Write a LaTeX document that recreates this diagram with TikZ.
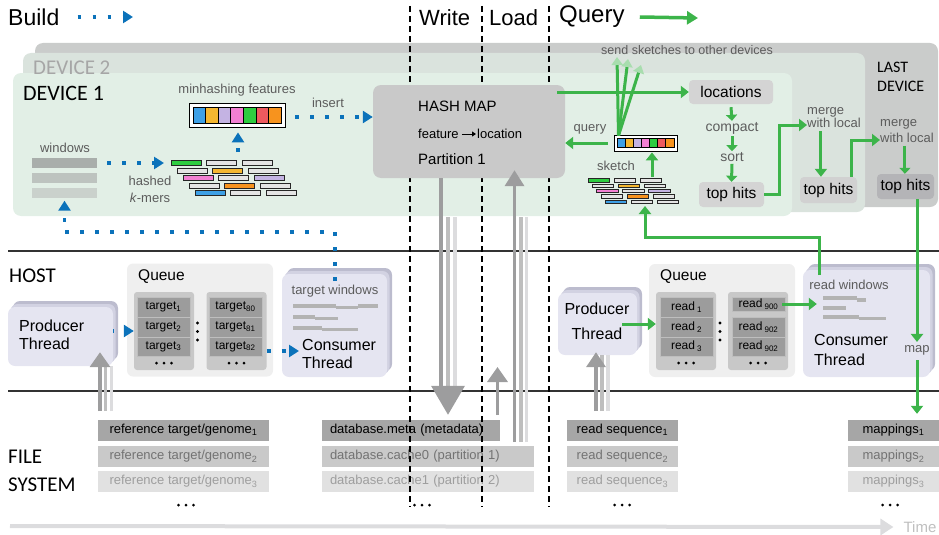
\documentclass[tikz,border=0pt]{standalone}
\usepackage{fontspec}
\setmainfont{Liberation Sans}
\newfontfamily\capfont{Carlito}
\usetikzlibrary{arrows.meta,positioning,shadows}

\definecolor{dotblue}{HTML}{0B72BA}
\definecolor{qgreen}{HTML}{3CB44A}
\definecolor{palegreen}{HTML}{A8DDAE}
\definecolor{devone}{HTML}{E2EFE6}
\definecolor{devtwo}{HTML}{DAE3DD}
\definecolor{devlast}{HTML}{CACCCB}
\definecolor{labgray}{HTML}{5C5C5C}
\definecolor{mapgray}{HTML}{C9C9C9}
\definecolor{hitgray}{HTML}{D4D4D4}
\definecolor{hitdark}{HTML}{B4B4B7}
\definecolor{thrfront}{HTML}{E5E5F1}
\definecolor{thrmid}{HTML}{D2D2E2}
\definecolor{thrback}{HTML}{BCBCCE}
\definecolor{queuebg}{HTML}{EFEFEF}
\definecolor{colgray}{HTML}{C8C8C8}
\definecolor{cellgray}{HTML}{9C9C9C}
\definecolor{arrdark}{HTML}{9D9D9E}
\definecolor{arrmid}{HTML}{BEBEBE}
\definecolor{arrlight}{HTML}{DCDCDE}
\definecolor{fileA}{HTML}{A6A6A6}
\definecolor{fileB}{HTML}{C9C9C9}
\definecolor{fileC}{HTML}{E1E1E1}
\definecolor{winA}{HTML}{A9AEAB}
\definecolor{winB}{HTML}{BDC3BF}
\definecolor{winC}{HTML}{CAD1CC}
\definecolor{fblue}{HTML}{3EA0E6}
\definecolor{fyellow}{HTML}{F5B731}
\definecolor{flav}{HTML}{C4B3E3}
\definecolor{fpink}{HTML}{F27FD2}
\definecolor{fgreen}{HTML}{2ECC40}
\definecolor{fred}{HTML}{EE5A5F}
\definecolor{forange}{HTML}{F7931E}
\definecolor{kgray}{HTML}{E4E4E4}
\definecolor{barlines}{HTML}{B3B3B3}

\newcommand{\fsz}[1]{\fontsize{#1}{#1}\selectfont}
% wall of hashed k-mers: x0, y0, row shift, row step, pitch, width, height
\newcommand{\kmerwall}[7]{%
  \foreach \r/\ca/\cb/\cc in {0/fgreen/kgray/kgray,1/kgray/fyellow/kgray,
      2/fpink/kgray/flav,3/kgray/forange/kgray,4/fblue/kgray/kgray}{
    \foreach \b/\cl in {0/\ca,1/\cb,2/\cc}
      \filldraw[fill=\cl,draw=black!85,line width=.7pt]
        ({#1+\r*#3+\b*#5},{#2+\r*#4}) rectangle ++(#6,#7);
  }}
% minhash cells: left x, top y, cell width, height
\newcommand{\featcells}[4]{%
  \foreach \c [count=\i from 0] in {fblue,fyellow,flav,fpink,fgreen,fred,forange}
    \filldraw[fill=\c,draw=black,line width=.7pt] ({#1+\i*#3},#2) rectangle ++(#3,#4);}
\newcommand{\threedots}[2]{%
  \foreach \i in {-1,0,1} \fill ({#1+\i*7.5},#2) circle (1.5pt);}

\begin{document}
\begin{tikzpicture}[x=1pt,y=-1pt,
  lbl/.style={text=labgray,font=\fsz{13},inner sep=0pt},
  bigtitle/.style={font=\fsz{23},inner sep=0pt,anchor=west},
  caption/.style={font=\capfont\fontsize{21}{28}\selectfont,inner sep=0pt,anchor=west,align=left},
  builddot/.style={dotblue,line width=3.8pt,dash pattern=on 3.8pt off 11.2pt,
    -{Triangle[length=10pt,width=12pt]}},
  qarrow/.style={qgreen,line width=3pt,-{Triangle[length=8pt,width=12pt]}},
  smallq/.style={qgreen,line width=3pt,-{Triangle[length=6pt,width=11pt]}},
  phaseline/.style={line width=1.2pt,dash pattern=on 6pt off 4pt},
  sepline/.style={black!80,line width=1.2pt},
  hitbox/.style={fill=#1,rounded corners=4pt,minimum width=57pt,minimum height=25pt,
    inner sep=0pt,font=\fsz{15.5}},
  thread/.style={fill=thrfront,rounded corners=7pt,inner sep=0pt,
    copy shadow={shadow xshift=5pt,shadow yshift=6pt,fill=thrback,draw=none},
    copy shadow={shadow xshift=2.5pt,shadow yshift=3pt,fill=thrmid,draw=none}},
  thrtext/.style={font=\fontsize{16}{18}\selectfont,inner sep=0pt,align=left},
  queuebox/.style={fill=queuebg,rounded corners=6pt,minimum width=146pt,inner sep=0pt},
  column/.style={fill=colgray,rounded corners=3pt,minimum width=60pt,minimum height=78pt,inner sep=0pt},
  cell/.style={fill=cellgray,draw=arrmid,line width=.5pt,minimum width=53pt,
    minimum height=19.5pt,inner sep=0pt,font=\fsz{12}},
  filebox/.style={fill=#1,minimum height=21pt,inner sep=0pt,font=\fsz{13}},
  winbar/.style={minimum width=65pt,minimum height=10pt,inner sep=0pt,fill=#1},
  grayshaft/.style={line width=3.5pt},
]
  \useasboundingbox (0,0) rectangle (939,535);

  % devices
  \fill[devlast,rounded corners=8pt] (35,43) rectangle (938,207);
  \fill[devtwo,rounded corners=8pt] (23,53) rectangle (865,212);
  \fill[devone,rounded corners=8pt] (13,73) rectangle (792,216);
  \node[caption,text=black!35] (dev2lbl) at (33,68) {DEVICE 2};
  \node[caption,font=\capfont\fsz{22}] (dev1lbl) at (23,93) {DEVICE 1};
  \node[caption,font=\capfont\fontsize{16}{19}\selectfont] (lastlbl) at (877,77) {LAST\\DEVICE};

  % file system
  \foreach \n/\c/\t/\y in {1/fileA/black/430.5,2/fileB/black!55/456.5,3/fileC/black!38/481.5}{
    \node[filebox=\c,text=\t,minimum width=171pt] (ref\n) at (183.5,\y) {reference target/genome\textsubscript{\n}};
    \node[filebox=\c,text=\t,minimum width=111pt] (rs\n) at (622.5,\y) {read sequence\textsubscript{\n}};
    \node[filebox=\c,text=\t,minimum width=91pt] (map\n) at (893.5,\y) {mappings\textsubscript{\n}};
  }
  \node[filebox=fileA,text width=162pt,inner xsep=8pt,align=left] (db1) at (411,430.5) {database.meta (metadata)};
  \node[filebox=fileB,text=black!55,text width=196pt,inner xsep=8pt,align=left] (db2) at (428,456.5) {database.cache0 (partition 1)};
  \node[filebox=fileC,text=black!38,text width=196pt,inner xsep=8pt,align=left] (db3) at (428,481.5) {database.cache1 (partition 2)};
  \threedots{186}{505} \threedots{422}{505} \threedots{622}{505} \threedots{890}{505}

  % layers and phases
  \draw[sepline] (8,251) -- (939,251);
  \draw[sepline] (8,391) -- (939,391);
  \node[caption] (hostlbl) at (9,276) {HOST};
  \node[caption] (fslbl) at (8,471) {FILE\\SYSTEM};
  \foreach \x in {410,482,549} \draw[phaseline] (\x,6) -- (\x,507);
  \node[bigtitle] (build) at (8,17) {Build};
  \node[bigtitle,font=\fsz{22}] (write) at (419,18) {Write};
  \node[bigtitle,font=\fsz{22}] (load) at (489,18) {Load};
  \node[bigtitle,font=\fsz{24}] (query) at (559,17) {Query};
  \coordinate (buildend) at (133,17);
  \coordinate (queryend) at (698,18);
  \draw[builddot] ([xshift=18pt]build.east) -- (buildend);
  \draw[qgreen,line width=3.5pt,-{Triangle[length=11pt,width=13pt]}] ([xshift=15pt]query.east) -- (queryend);

  % hash map
  \node[fill=mapgray,rounded corners=8pt,minimum width=192pt,minimum height=93pt,inner sep=0pt] (hashmap) at (469,131.5) {};
  \node[anchor=west,inner sep=0pt,font=\fsz{15}] (hmtitle) at (418,106) {HASH MAP};
  \node[anchor=west,inner sep=0pt,font=\fsz{13}] (featlbl) at (418,134) {feature};
  \node[anchor=west,inner sep=0pt,font=\fsz{13}] (loclbl) at (477,134) {location};
  \draw[line width=1pt,-{Triangle[length=4pt,width=5pt]}] ([xshift=3pt]featlbl.east) -- ([xshift=-1pt]loclbl.west);
  \node[anchor=west,inner sep=0pt,font=\fsz{15}] (hmpart) at (418,159) {Partition 1};

  % build in device 1
  \node[lbl] (winlbl) at (65,148) {windows};
  \node[winbar=winA] (win1) at (64.5,163) {};
  \node[winbar=winB] (win2) at (64.5,178) {};
  \node[winbar=winC] (win3) at (64.5,192.5) {};
  \coordinate (kmerLin) at (164,163);
  \draw[builddot] ([xshift=10pt]win1.east) -- (kmerLin);
  \node[lbl,align=center,font=\fontsize{13}{17}\selectfont] (hashlbl) at (150,189) {hashed\\\textit{k}-mers};
  \kmerwall{171}{160.5}{6}{7.5}{35.5}{30}{5}
  \node[lbl] (minlbl) at (237,90) {minhashing features};
  \node[draw=black,line width=.8pt,fill=white,minimum width=96pt,minimum height=24pt,inner sep=0pt] (minhash) at (237,115) {};
  \featcells{193}{107}{12.57}{16}
  \coordinate (kmerLtop) at (238,152);
  \draw[builddot] (kmerLtop) -- ([yshift=-5pt]kmerLtop |- minhash.south);
  \node[lbl] (inslbl) at (328,103) {insert};
  \draw[builddot] ([xshift=10pt,yshift=-2pt]minhash.east) -- ([yshift=-2pt]minhash.east -| hashmap.west);

  % query in device 1
  \node[lbl,font=\fsz{12.5}] (sendlbl) at (687,50) {send sketches to other devices};
  \node[draw=black,line width=.8pt,fill=white,minimum width=63pt,minimum height=16pt,inner sep=0pt] (sketchbar) at (645.5,143) {};
  \featcells{617}{138.5}{8.14}{9}
  \coordinate (fanbase) at ([xshift=-27pt,yshift=-1pt]sketchbar.north);
  \coordinate (send1) at (617,57);
  \coordinate (send2) at (628,59);
  \coordinate (send3) at (641,65);
  \foreach \s in {send1,send2,send3}
    \draw[qgreen,line width=3pt,-{Triangle[length=8pt,width=11pt,color=palegreen]}] (fanbase) -- (\s);
  \node[hitbox=hitgray,minimum width=84pt,minimum height=24pt] (locs) at (731,92) {locations};
  \draw[qarrow] ([xshift=-8pt]hashmap.east |- locs.west) -- (locs.west);
  \node[lbl] (querylbl) at (590,129) {query};
  \draw[qarrow] ([xshift=-6pt]sketchbar.west) -- (sketchbar.west -| hashmap.east);
  \node[lbl] (sketchlbl) at (616,166) {sketch};
  \kmerwall{588}{178.5}{4.3}{5.4}{26}{21.5}{3.5}
  \coordinate (kmerRtop) at (652,177);
  \draw[qarrow] (kmerRtop) -- ([yshift=-1pt]kmerRtop |- sketchbar.south);
  \node[lbl,font=\fsz{14}] (compactlbl) at (732,128) {compact};
  \node[lbl,font=\fsz{14}] (sortlbl) at (732,157) {sort};
  \node[hitbox=hitgray,minimum width=65pt] (hits1) at (731.5,194.5) {top hits};
  \draw[smallq] ([yshift=-3pt]locs.south) -- ([yshift=1pt]compactlbl.north);
  \draw[smallq] ([yshift=-2pt]compactlbl.south) -- ([yshift=1pt]sortlbl.north);
  \draw[smallq] ([yshift=-2pt]sortlbl.south) -- (hits1.north);

  % merging over devices
  \node[lbl,anchor=west,align=left,font=\fontsize{13}{12}\selectfont] (merge1) at (807,118) {merge\\with local};
  \node[hitbox=hitgray,fill=black!18,minimum height=26pt] (hits2) at (828.5,190) {top hits};
  \node[lbl,anchor=west,align=left,font=\fontsize{13}{16}\selectfont] (merge2) at (880,131) {merge\\with local};
  \node[hitbox=hitdark] (hits3) at (905.5,186.5) {top hits};
  \draw[qarrow] (hits1.east) -- ++(15,0) |- ([yshift=-7pt]merge1.west);
  \draw[qarrow] ([xshift=-13pt,yshift=-3pt]merge1.south) -- ([xshift=-13pt]merge1.south |- hits2.north);
  \draw[qarrow] ([xshift=23pt]hits2.north) |- ([yshift=-9pt]merge2.west);
  \draw[smallq] ([xshift=-2pt,yshift=-3pt]merge2.south) -- ([xshift=-2pt]merge2.south |- hits3.north);

  % host, build side
  \node[thread,minimum width=105pt,minimum height=59pt] (lprod) at (60.5,336.5) {};
  \node[thrtext,anchor=west] (lprodlbl) at (19,335) {Producer\\Thread};
  \node[queuebox,minimum height=113pt] (lqueue) at (200,320) {};
  \node[anchor=west,inner sep=0pt,font=\fsz{15.5}] (lqlbl) at (138,277) {Queue};
  \node[column] (lcol1) at (164,331) {};
  \node[column] (lcol2) at (236.5,331) {};
  \foreach \n/\y/\k in {1/307/80,2/327/81,3/346.5/82}{
    \node[cell] (ltgt\n) at (163.5,\y) {target\textsubscript{\n}};
    \node[cell] (ltgtb\n) at (235.5,\y) {target\textsubscript{\k}};
  }
  \threedots{164}{363} \threedots{236.5}{363}
  \foreach \y in {323,331.5,340} \fill (197.5,\y) circle (1.6pt);
  \node[thread,minimum width=105pt,minimum height=103pt] (lcons) at (334.5,325.5) {};
  \node[lbl] (ltwinlbl) at (335,291) {target windows};
  \draw[barlines,line width=3.5pt] (293,306) -- (336,306) (336,307.5) -- (358,307.5) (358,306) -- (378,306)
    (293,317) -- (315,317) (315,318.5) -- (338,318.5)
    (293,328) -- (322,328) (322,329.5) -- (358,329.5);
  \node[thrtext,anchor=west] (lconslbl) at (302,354) {Consumer\\Thread};
  \draw[builddot,dash phase=3.5pt] (lprod.east |- lcol1.west) -- (lcol1.west);
  \coordinate (lconsin) at (299,351);
  \draw[builddot] (lcol2.east |- lconsin) -- (lconsin);
  \coordinate (lwin) at (335,281);
  \draw[builddot] (lwin) -- ++(0,-49) -| ([yshift=-3pt]win3.south);

  % host, query side
  \node[thread,minimum width=79pt,minimum height=62pt] (rprod) at (597.5,324) {};
  \node[thrtext,align=center,font=\fontsize{16}{25}\selectfont] (rprodlbl) at (597,321) {Producer\\Thread};
  \node[queuebox,minimum height=113pt] (rqueue) at (722,320.5) {};
  \node[anchor=west,inner sep=0pt,font=\fsz{15.5}] (rqlbl) at (660,277) {Queue};
  \node[column] (rcol1) at (686,331) {};
  \node[column] (rcol2) at (758,331) {};
  \foreach \n/\y in {1/307,2/327,3/346.5}
    \node[cell] (rrd\n) at (686.5,\y) {read\,\textsubscript{\n}};
  \node[cell,minimum height=14pt] (rrdb1) at (758.5,304) {read\,\textsubscript{900}};
  \node[cell] (rrdb2) at (758.5,327) {read\,\textsubscript{902}};
  \node[cell] (rrdb3) at (758.5,346.5) {read\,\textsubscript{902}};
  \threedots{686}{363} \threedots{758}{363}
  \foreach \y in {323,331.5,340} \fill (720,\y) circle (1.6pt);
  \node[thread,minimum width=127pt,minimum height=107pt] (rcons) at (866.5,323.5) {};
  \node[lbl] (rwinlbl) at (849,285) {read windows};
  \draw[barlines,line width=3.5pt] (823,298) -- (857,298) (857,300) -- (866,300)
    (823,308) -- (846,308)
    (823,317) -- (859,317) (859,318.5) -- (886,318.5);
  \node[thrtext,anchor=west,font=\fontsize{16}{20}\selectfont] (rconslbl) at (814,350) {Consumer\\Thread};
  \node[lbl] (maplbl) at (917,350) {map};
  \draw[qarrow] ([xshift=-15pt]rprod.east) -- (rcol1.west |- rprod.east);
  \draw[qarrow] ([xshift=-3pt]rrdb1.east) -- ([xshift=14pt]rcons.west |- rrdb1.east);
  \draw[qarrow] (maplbl |- hits3.south) -- ([yshift=3pt]maplbl.north);
  \draw[qarrow] ([yshift=-5pt]maplbl.south) -- ([yshift=6pt]maplbl |- map1.north);
  \coordinate (rwin) at (819,275);
  \coordinate (kmerRbot) at (645,206);
  \draw[qarrow] (rwin) -- ++(0,-38) -| (kmerRbot);

  % reading and writing
  \coordinate (lin) at (100,411);
  \draw[arrlight,grayshaft] ([xshift=11.5pt]lin) -- ([xshift=11.5pt]lin |- lprod.south);
  \draw[arrmid,grayshaft] ([xshift=5.5pt]lin) -- ([xshift=5.5pt]lin |- lprod.south);
  \draw[arrdark,grayshaft,-{Triangle[length=15pt,width=20pt]}] (lin) -- ([yshift=14pt]lin |- lprod.south);
  \coordinate (rin) at (596,411);
  \draw[arrlight,grayshaft] ([xshift=12pt]rin) -- ([xshift=12pt]rin |- rprod.south);
  \draw[arrmid,grayshaft] ([xshift=6pt]rin) -- ([xshift=6pt]rin |- rprod.south);
  \draw[arrdark,grayshaft,-{Triangle[length=15pt,width=19pt]}] (rin) -- ([yshift=3pt]rin |- rprod.south);
  \coordinate (wrtop) at (448,217);
  \draw[arrlight,grayshaft] ([xshift=7pt]wrtop) -- ++(0,175);
  \draw[arrdark,grayshaft] ([xshift=-28pt]hashmap.south) -- ++(0,212);
  \draw[arrmid,grayshaft,-{Triangle[length=29pt,width=33pt,color=arrdark]}] (wrtop) -- ([yshift=5pt]wrtop |- db1.north);
  \coordinate (ldbot) at (514.5,442);
  \draw[arrlight,grayshaft] ([xshift=12pt]ldbot) -- ++(0,-225);
  \draw[arrmid,grayshaft] ([xshift=6.5pt]ldbot) -- ++(0,-225);
  \draw[arrdark,grayshaft,-{Triangle[length=16pt,width=19pt]}] (ldbot) -- ([yshift=8pt]ldbot |- hashmap.south);
  \coordinate (metaup) at (497.5,415);
  \draw[arrdark,grayshaft,-{Triangle[length=15pt,width=20pt]}] (metaup) -- ++(0,-48);

  % time
  \node[inner sep=0pt,font=\fsz{15},text=black!25] (timelbl) at (920,527) {Time};
  \coordinate (tstart) at (10,526);
  \draw[arrlight,line width=4pt,-{Triangle[length=13pt,width=16pt]}] (tstart) -- ([xshift=-10pt]timelbl.west);
\end{tikzpicture}
\end{document}
